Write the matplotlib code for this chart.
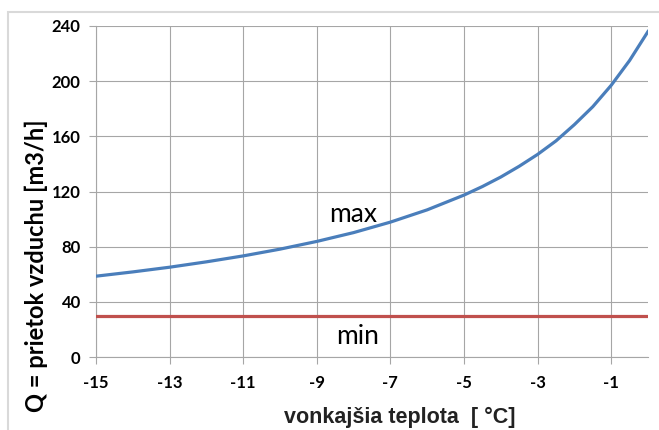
import matplotlib.pyplot as plt
from matplotlib.patches import Rectangle

# data
teplota = [-15, -14, -13, -12, -11, -10, -9, -8, -7, -6, -5, -4.5, -4, -3.5, -3,
           -2.5, -2, -1.5, -1, -0.5, 0]
q_max = [58.6, 61.7, 65.1, 69.0, 73.3, 78.2, 83.8, 90.2, 97.8, 106.7, 117.4, 123.6, 130.5,
         138.3, 146.9, 156.7, 168.5, 181.5, 197.0, 215.0, 236.0]
q_min = [30] * len(teplota)
x_ticks = [-15, -13, -11, -9, -7, -5, -3, -1]
y_ticks = [0, 40, 80, 120, 160, 200, 240]

plt.rcParams["font.family"] = ["Lato", "DejaVu Sans"]
plt.rcParams["axes.unicode_minus"] = False

fig = plt.figure(figsize=(6.59, 4.30), dpi=100)
W, H = 659, 430

# light outer frame like the spreadsheet chart area
fig.patches.append(Rectangle((8 / W, -0.1), 1.2, 1 - 12 / H + 0.1, transform=fig.transFigure,
                             fill=False, edgecolor="#D9D9D9", linewidth=1.5))

ax = fig.add_axes([96 / W, 1 - 357 / H, (648 - 96) / W, (357 - 26) / H])

gridc = "#A6A6A6"
ax.plot(teplota, q_max, color="#4A7EBB", linewidth=2.3, zorder=3)
ax.plot(teplota, q_min, color="#C0504D", linewidth=2.3, zorder=3)

ax.set_xlim(-15, 0)
ax.set_ylim(0, 240)
ax.set_xticks(x_ticks)
ax.set_yticks(y_ticks)
ax.grid(True, color=gridc, linewidth=0.8)
ax.set_axisbelow(True)
for s in ["top", "right"]:
    ax.spines[s].set_visible(False)
for s in ["left", "bottom"]:
    ax.spines[s].set_color(gridc)
    ax.spines[s].set_linewidth(0.8)
ax.tick_params(colors=gridc, length=5, width=0.8, direction="out")
for lab in ax.get_xticklabels() + ax.get_yticklabels():
    lab.set_color("black")
    lab.set_fontweight("bold")
    lab.set_fontsize(12)
ax.tick_params(axis="x", pad=8)
ax.tick_params(axis="y", pad=6)

ax.text(-8.0, 103, "max", fontsize=19, ha="center", va="center")
ax.text(-7.9, 15, "min", fontsize=19, ha="center", va="center")

# axis titles placed like in the reference
fig.text(400 / W, 1 - 417 / H, "vonkajšia teplota  [ °C]", fontsize=15.5, fontweight="bold",
         family=["Liberation Sans", "DejaVu Sans"], color="#222222", ha="center", va="center")
fig.text(36 / W, 1 - 266 / H, "Q = prietok vzduchu [m3/h]", fontsize=17, fontweight="bold",
         rotation=90, ha="center", va="center")

fig.savefig("out.png", dpi=100)
